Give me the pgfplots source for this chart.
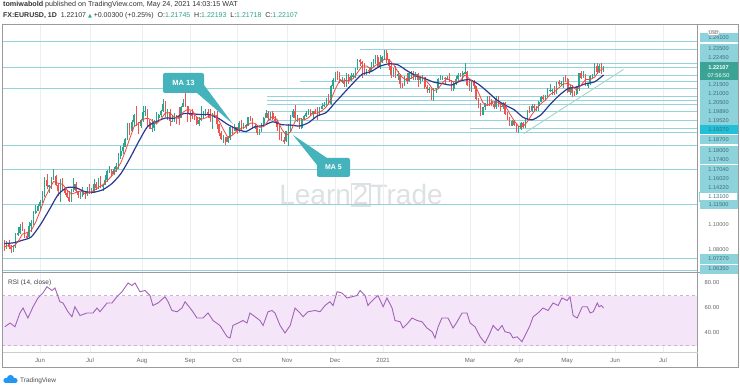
\documentclass[border=0pt]{standalone}
\usepackage{pgfplots}
\pgfplotsset{compat=1.18}
\usepackage{pgfplotstable}
\usepackage{fontspec}
\setmainfont{Liberation Sans}
\newfontfamily\dejavu{DejaVu Sans}
\definecolor{upc}{HTML}{2BA58E}
\definecolor{dnc}{HTML}{EF5350}
\definecolor{maf}{HTML}{F0463F}
\definecolor{mas}{HTML}{2B3990}
\definecolor{levelc}{HTML}{94D3DC}
\definecolor{lbl}{HTML}{8ED2DC}
\definecolor{lbltxt}{HTML}{3D6F78}
\definecolor{cur}{HTML}{3AA394}
\definecolor{hot}{HTML}{22BFD8}
\definecolor{framec}{HTML}{9A9A9A}
\definecolor{gridc}{HTML}{EBEFF1}
\definecolor{rsic}{HTML}{A263B8}
\definecolor{rsib}{HTML}{F4E6F8}
\definecolor{rsid}{HTML}{C9B5CF}
\definecolor{callout}{HTML}{45B3BC}
\definecolor{wm}{HTML}{DCE1E4}
\definecolor{txtg}{HTML}{666666}
\definecolor{trend}{HTML}{A3D6CB}
\definecolor{tvblue}{HTML}{2196F3}

\pgfplotstableread{
i O H L C
0 1.0840 1.0875 1.0790 1.0805
1 1.0805 1.0865 1.0800 1.0850
2 1.0850 1.0870 1.0805 1.0818
3 1.0818 1.0830 1.0775 1.0805
4 1.0805 1.0830 1.0780 1.0820
5 1.0820 1.0925 1.0810 1.0915
6 1.0915 1.0975 1.0905 1.0925
7 1.0925 1.0995 1.0915 1.0975
8 1.0975 1.1010 1.0945 1.0950
9 1.0950 1.0955 1.0885 1.0900
10 1.0900 1.0925 1.0880 1.0895
11 1.0895 1.1010 1.0890 1.0980
12 1.0980 1.1030 1.0935 1.1005
13 1.1005 1.1095 1.0990 1.1080
14 1.1080 1.1145 1.1075 1.1100
15 1.1100 1.1155 1.1095 1.1135
16 1.1135 1.1180 1.1105 1.1170
17 1.1170 1.1255 1.1160 1.1235
18 1.1235 1.1360 1.1205 1.1335
19 1.1335 1.1385 1.1270 1.1290
20 1.1290 1.1300 1.1240 1.1295
21 1.1295 1.1360 1.1265 1.1340
22 1.1340 1.1422 1.1335 1.1370
23 1.1370 1.1380 1.1290 1.1300
24 1.1300 1.1310 1.1215 1.1255
25 1.1255 1.1345 1.1170 1.1330
26 1.1330 1.1355 1.1260 1.1265
27 1.1265 1.1285 1.1220 1.1240
28 1.1240 1.1260 1.1195 1.1205
29 1.1205 1.1255 1.1170 1.1175
30 1.1175 1.1270 1.1170 1.1260
31 1.1260 1.1350 1.1245 1.1310
32 1.1310 1.1325 1.1245 1.1250
33 1.1250 1.1255 1.1200 1.1220
34 1.1220 1.1245 1.1190 1.1220
35 1.1220 1.1285 1.1205 1.1240
36 1.1240 1.1255 1.1190 1.1235
37 1.1235 1.1285 1.1210 1.1250
38 1.1250 1.1305 1.1230 1.1240
39 1.1240 1.1275 1.1230 1.1245
40 1.1245 1.1345 1.1240 1.1310
41 1.1310 1.1320 1.1260 1.1275
42 1.1275 1.1355 1.1265 1.1330
43 1.1330 1.1370 1.1275 1.1285
44 1.1285 1.1310 1.1255 1.1300
45 1.1300 1.1375 1.1295 1.1340
46 1.1340 1.1415 1.1320 1.1410
47 1.1410 1.1450 1.1390 1.1410
48 1.1410 1.1425 1.1370 1.1385
49 1.1385 1.1440 1.1380 1.1425
50 1.1425 1.1470 1.1400 1.1445
51 1.1445 1.1545 1.1420 1.1525
52 1.1525 1.1600 1.1500 1.1565
53 1.1565 1.1625 1.1540 1.1595
54 1.1595 1.1660 1.1590 1.1655
55 1.1655 1.1780 1.1650 1.1755
56 1.1755 1.1780 1.1690 1.1715
57 1.1715 1.1805 1.1710 1.1790
58 1.1790 1.1850 1.1760 1.1845
59 1.1845 1.1910 1.1760 1.1775
60 1.1775 1.1790 1.1695 1.1760
61 1.1760 1.1810 1.1740 1.1800
62 1.1800 1.1915 1.1790 1.1865
63 1.1865 1.1915 1.1835 1.1875
64 1.1875 1.1885 1.1755 1.1785
65 1.1785 1.1805 1.1730 1.1735
66 1.1735 1.1810 1.1710 1.1740
67 1.1740 1.1800 1.1715 1.1785
68 1.1785 1.1865 1.1780 1.1815
69 1.1815 1.1850 1.1790 1.1840
70 1.1840 1.1880 1.1830 1.1870
71 1.1870 1.1965 1.1865 1.1930
72 1.1930 1.1950 1.1825 1.1835
73 1.1835 1.1885 1.1800 1.1865
74 1.1865 1.1885 1.1755 1.1795
75 1.1795 1.1845 1.1790 1.1795
76 1.1795 1.1860 1.1790 1.1835
77 1.1835 1.1840 1.1770 1.1830
78 1.1830 1.1900 1.1765 1.1820
79 1.1820 1.1915 1.1815 1.1905
80 1.1905 1.1965 1.1900 1.1935
81 1.1935 1.2011 1.1905 1.1910
82 1.1910 1.1915 1.1790 1.1855
83 1.1855 1.1875 1.1790 1.1850
84 1.1850 1.1885 1.1810 1.1835
85 1.1835 1.1840 1.1805 1.1815
86 1.1815 1.1830 1.1765 1.1775
87 1.1775 1.1830 1.1755 1.1800
88 1.1800 1.1915 1.1795 1.1815
89 1.1815 1.1870 1.1810 1.1845
90 1.1845 1.1885 1.1835 1.1865
91 1.1865 1.1890 1.1815 1.1845
92 1.1845 1.1885 1.1790 1.1815
93 1.1815 1.1860 1.1735 1.1850
94 1.1850 1.1870 1.1815 1.1840
95 1.1840 1.1870 1.1730 1.1770
96 1.1770 1.1775 1.1680 1.1700
97 1.1700 1.1720 1.1650 1.1655
98 1.1655 1.1685 1.1625 1.1670
99 1.1670 1.1675 1.1612 1.1630
100 1.1630 1.1680 1.1625 1.1665
101 1.1665 1.1750 1.1650 1.1745
102 1.1745 1.1755 1.1685 1.1720
103 1.1720 1.1770 1.1715 1.1745
104 1.1745 1.1750 1.1695 1.1715
105 1.1715 1.1795 1.1710 1.1780
106 1.1780 1.1805 1.1725 1.1735
107 1.1735 1.1780 1.1730 1.1760
108 1.1760 1.1775 1.1730 1.1760
109 1.1760 1.1830 1.1755 1.1825
110 1.1825 1.1835 1.1795 1.1815
111 1.1815 1.1820 1.1735 1.1745
112 1.1745 1.1770 1.1735 1.1745
113 1.1745 1.1755 1.1690 1.1705
114 1.1705 1.1730 1.1690 1.1720
115 1.1720 1.1780 1.1710 1.1770
116 1.1770 1.1830 1.1760 1.1820
117 1.1820 1.1880 1.1815 1.1860
118 1.1860 1.1870 1.1805 1.1815
119 1.1815 1.1865 1.1805 1.1860
120 1.1860 1.1870 1.1805 1.1810
121 1.1810 1.1835 1.1785 1.1795
122 1.1795 1.1800 1.1720 1.1745
123 1.1745 1.1770 1.1650 1.1675
124 1.1675 1.1710 1.1640 1.1645
125 1.1645 1.1670 1.1620 1.1640
126 1.1640 1.1720 1.1635 1.1715
127 1.1715 1.1770 1.1603 1.1725
128 1.1725 1.1840 1.1710 1.1830
129 1.1830 1.1890 1.1820 1.1875
130 1.1875 1.1920 1.1800 1.1815
131 1.1815 1.1840 1.1785 1.1815
132 1.1815 1.1820 1.1735 1.1740
133 1.1740 1.1815 1.1730 1.1810
134 1.1810 1.1840 1.1800 1.1835
135 1.1835 1.1870 1.1830 1.1855
136 1.1855 1.1885 1.1840 1.1860
137 1.1860 1.1890 1.1835 1.1850
138 1.1850 1.1875 1.1810 1.1870
139 1.1870 1.1890 1.1850 1.1855
140 1.1855 1.1905 1.1800 1.1840
141 1.1840 1.1900 1.1835 1.1890
142 1.1890 1.1935 1.1885 1.1915
143 1.1915 1.1940 1.1905 1.1920
144 1.1920 1.1970 1.1915 1.1965
145 1.1965 1.2005 1.1920 1.1925
146 1.1925 1.2075 1.1920 1.2070
147 1.2070 1.2125 1.2040 1.2110
148 1.2110 1.2175 1.2100 1.2145
149 1.2145 1.2180 1.2110 1.2120
150 1.2120 1.2175 1.2090 1.2105
151 1.2105 1.2140 1.2090 1.2105
152 1.2105 1.2125 1.2060 1.2080
153 1.2080 1.2165 1.2060 1.2135
154 1.2135 1.2160 1.2080 1.2110
155 1.2110 1.2165 1.2105 1.2145
156 1.2145 1.2165 1.2125 1.2150
157 1.2150 1.2210 1.2130 1.2195
158 1.2195 1.2275 1.2190 1.2265
159 1.2265 1.2275 1.2220 1.2255
160 1.2255 1.2260 1.2130 1.2240
161 1.2240 1.2245 1.2150 1.2160
162 1.2160 1.2200 1.2155 1.2190
163 1.2190 1.2210 1.2160 1.2185
164 1.2185 1.2250 1.2180 1.2215
165 1.2215 1.2275 1.2210 1.2250
166 1.2250 1.2310 1.2240 1.2295
167 1.2295 1.2310 1.2210 1.2215
168 1.2215 1.2310 1.2200 1.2250
169 1.2250 1.2300 1.2245 1.2295
170 1.2295 1.2349 1.2265 1.2325
171 1.2325 1.2345 1.2245 1.2270
172 1.2270 1.2280 1.2190 1.2220
173 1.2220 1.2235 1.2130 1.2150
174 1.2150 1.2210 1.2135 1.2205
175 1.2205 1.2220 1.2130 1.2155
176 1.2155 1.2180 1.2115 1.2155
177 1.2155 1.2160 1.2055 1.2080
178 1.2080 1.2090 1.2055 1.2075
179 1.2075 1.2145 1.2065 1.2130
180 1.2130 1.2165 1.2085 1.2105
181 1.2105 1.2175 1.2095 1.2165
182 1.2165 1.2185 1.2120 1.2170
183 1.2170 1.2180 1.2115 1.2140
184 1.2140 1.2175 1.2115 1.2160
185 1.2160 1.2165 1.2060 1.2110
186 1.2110 1.2135 1.2080 1.2125
187 1.2125 1.2155 1.2105 1.2135
188 1.2135 1.2140 1.2040 1.2060
189 1.2060 1.2075 1.2010 1.2040
190 1.2040 1.2060 1.2010 1.2040
191 1.2040 1.2045 1.1955 1.1965
192 1.1965 1.2050 1.1950 1.2045
193 1.2045 1.2055 1.2010 1.2050
194 1.2050 1.2130 1.2045 1.2120
195 1.2120 1.2150 1.2110 1.2120
196 1.2120 1.2145 1.2110 1.2130
197 1.2130 1.2135 1.2085 1.2120
198 1.2120 1.2145 1.2110 1.2130
199 1.2130 1.2170 1.2095 1.2105
200 1.2105 1.2110 1.2025 1.2040
201 1.2040 1.2095 1.2025 1.2090
202 1.2090 1.2145 1.2075 1.2120
203 1.2120 1.2170 1.2095 1.2155
204 1.2155 1.2170 1.2135 1.2150
205 1.2150 1.2180 1.2110 1.2165
206 1.2165 1.2243 1.2160 1.2175
207 1.2175 1.2185 1.2065 1.2075
208 1.2075 1.2110 1.2025 1.2050
209 1.2050 1.2105 1.2020 1.2090
210 1.2090 1.2115 1.2045 1.2065
211 1.2065 1.2070 1.1960 1.1965
212 1.1965 1.1975 1.1895 1.1915
213 1.1915 1.1935 1.1835 1.1845
214 1.1845 1.1905 1.1840 1.1900
215 1.1900 1.1935 1.1880 1.1930
216 1.1930 1.1990 1.1910 1.1985
217 1.1985 1.1990 1.1910 1.1950
218 1.1950 1.1965 1.1910 1.1930
219 1.1930 1.1950 1.1885 1.1900
220 1.1900 1.1990 1.1885 1.1975
221 1.1975 1.1990 1.1905 1.1915
222 1.1915 1.1945 1.1875 1.1905
223 1.1905 1.1945 1.1885 1.1935
224 1.1935 1.1945 1.1840 1.1850
225 1.1850 1.1865 1.1805 1.1815
226 1.1815 1.1830 1.1755 1.1760
227 1.1760 1.1800 1.1755 1.1795
228 1.1795 1.1805 1.1760 1.1765
229 1.1765 1.1770 1.1710 1.1720
230 1.1720 1.1760 1.1704 1.1730
231 1.1730 1.1790 1.1725 1.1780
232 1.1780 1.1785 1.1740 1.1760
233 1.1760 1.1820 1.1740 1.1815
234 1.1815 1.1880 1.1805 1.1875
235 1.1875 1.1915 1.1855 1.1870
236 1.1870 1.1925 1.1865 1.1915
237 1.1915 1.1925 1.1870 1.1900
238 1.1900 1.1915 1.1870 1.1910
239 1.1910 1.1950 1.1875 1.1945
240 1.1945 1.1990 1.1940 1.1980
241 1.1980 1.1995 1.1955 1.1965
242 1.1965 1.1995 1.1955 1.1985
243 1.1985 1.2050 1.1980 1.2035
244 1.2035 1.2080 1.2020 1.2035
245 1.2035 1.2045 1.2000 1.2035
246 1.2035 1.2070 1.1995 1.2015
247 1.2015 1.2100 1.2005 1.2095
248 1.2095 1.2115 1.2070 1.2085
249 1.2085 1.2105 1.2065 1.2090
250 1.2090 1.2135 1.2055 1.2125
251 1.2125 1.2150 1.2100 1.2120
252 1.2120 1.2125 1.2015 1.2020
253 1.2020 1.2075 1.1995 1.2060
254 1.2060 1.2075 1.1985 1.2015
255 1.2015 1.2030 1.1990 1.2005
256 1.2005 1.2070 1.1995 1.2065
257 1.2065 1.2170 1.2030 1.2165
258 1.2165 1.2180 1.2120 1.2130
259 1.2130 1.2180 1.2125 1.2150
260 1.2150 1.2160 1.2070 1.2075
261 1.2075 1.2090 1.2050 1.2080
262 1.2080 1.2150 1.2075 1.2145
263 1.2145 1.2160 1.2130 1.2150
264 1.2150 1.2245 1.2145 1.2225
265 1.2225 1.2245 1.2160 1.2175
266 1.2175 1.2235 1.2170 1.2225
267 1.2225 1.2245 1.2160 1.2180
268 1.2175 1.2219 1.2172 1.2211
}\ohlc

\pgfplotstableread{
i v
0 1.0820
2 1.0830
4 1.0820
6 1.0857
8 1.0917
10 1.0929
12 1.0946
14 1.1012
16 1.1098
18 1.1195
20 1.1265
22 1.1326
24 1.1312
26 1.1304
28 1.1259
30 1.1229
32 1.1240
34 1.1252
36 1.1233
38 1.1237
40 1.1256
42 1.1280
44 1.1300
46 1.1333
48 1.1369
50 1.1415
52 1.1469
54 1.1557
56 1.1657
58 1.1752
60 1.1777
62 1.1809
64 1.1817
66 1.1800
68 1.1772
70 1.1810
72 1.1858
74 1.1859
76 1.1825
78 1.1815
80 1.1865
82 1.1885
84 1.1877
86 1.1826
88 1.1808
90 1.1820
92 1.1837
94 1.1843
96 1.1795
98 1.1727
100 1.1664
102 1.1686
104 1.1718
106 1.1739
108 1.1750
110 1.1779
112 1.1778
114 1.1746
116 1.1752
118 1.1797
120 1.1833
122 1.1805
124 1.1734
126 1.1684
128 1.1711
130 1.1792
132 1.1815
134 1.1803
136 1.1820
138 1.1854
140 1.1855
142 1.1874
144 1.1906
146 1.1959
148 1.2043
150 1.2110
152 1.2111
154 1.2107
156 1.2124
158 1.2173
160 1.2221
162 1.2222
164 1.2198
166 1.2227
168 1.2245
170 1.2276
172 1.2272
174 1.2234
176 1.2177
178 1.2134
180 1.2109
182 1.2129
184 1.2148
186 1.2141
188 1.2118
190 1.2080
192 1.2030
194 1.2044
196 1.2093
198 1.2124
200 1.2105
202 1.2097
204 1.2111
206 1.2153
208 1.2123
210 1.2091
212 1.2017
214 1.1938
216 1.1915
218 1.1939
220 1.1948
222 1.1925
224 1.1916
226 1.1853
228 1.1797
230 1.1754
232 1.1751
234 1.1792
236 1.1847
238 1.1894
240 1.1930
242 1.1957
244 1.2000
246 1.2021
248 1.2053
250 1.2082
252 1.2088
254 1.2068
256 1.2033
258 1.2076
260 1.2117
262 1.2116
264 1.2135
266 1.2184
268 1.2203
}\mafast

\pgfplotstableread{
i v
0 1.0845
4 1.0850
8 1.0870
12 1.0896
16 1.0989
20 1.1105
24 1.1224
28 1.1279
32 1.1277
36 1.1247
40 1.1243
44 1.1262
48 1.1309
52 1.1385
56 1.1502
60 1.1634
64 1.1752
68 1.1791
72 1.1818
76 1.1817
80 1.1852
84 1.1851
88 1.1845
92 1.1843
96 1.1813
100 1.1767
104 1.1732
108 1.1714
112 1.1750
116 1.1761
120 1.1789
124 1.1767
128 1.1764
132 1.1756
136 1.1782
140 1.1835
144 1.1862
148 1.1940
152 1.2015
156 1.2090
160 1.2158
164 1.2179
168 1.2220
172 1.2239
176 1.2231
180 1.2186
184 1.2147
188 1.2124
192 1.2097
196 1.2085
200 1.2074
204 1.2106
208 1.2116
212 1.2081
216 1.2024
220 1.1962
224 1.1918
228 1.1883
232 1.1824
236 1.1804
240 1.1844
244 1.1922
248 1.1992
252 1.2045
256 1.2059
260 1.2085
264 1.2099
268 1.2152
}\maslow

\pgfplotstableread{
i v
0.2 45
2.5 48
4.7 45
6.9 56
8.3 60
10.5 52
12.8 61
15.0 68
17.2 72
19.0 77
21.3 74
22.6 76
24.8 65
26.2 64
28.4 57
30.2 53
31.5 61
33.8 54
36.9 56
39.6 56
41.4 60
42.7 57
45.9 64
48.1 64
50.3 69
52.6 73
55.3 80
57.0 78
58.4 80
60.6 73
62.9 74
65.1 70
66.4 62
68.7 64
71.8 69
73.2 65
74.9 58
77.2 57
79.4 60
80.8 65
83.9 58
86.1 52
88.8 52
91.1 56
93.3 50
96.4 46
99.6 37
100.9 36
102.2 46
104.5 48
106.7 50
108.5 48
109.8 56
112.1 53
114.3 50
115.7 46
117.9 57
119.7 58
121.0 56
123.3 46
125.5 40
127.8 46
130.0 60
132.2 56
133.6 53
135.8 57
138.9 58
141.2 57
143.4 62
145.6 65
147.0 62
148.8 73
151.0 72
153.2 68
155.5 69
157.7 70
159.1 74
161.3 70
162.6 62
163.5 64
165.8 68
167.1 70
169.4 61
171.1 68
173.4 60
174.7 50
177.0 49
178.3 44
180.5 48
182.3 52
184.6 50
186.8 49
189.0 44
191.3 41
192.6 36
194.0 45
195.7 52
198.4 52
200.7 44
202.5 49
204.7 56
206.9 56
208.3 48
210.5 45
212.8 37
215.0 32
217.2 40
218.6 46
220.8 42
222.6 46
223.9 41
226.2 40
227.5 36
229.3 37
231.5 33
232.9 38
235.1 46
236.5 53
238.7 56
240.9 60
243.2 58
245.4 64
247.7 62
249.4 68
251.7 66
253.0 69
254.4 54
256.2 52
258.5 61
260.7 61
262.0 56
263.4 57
265.2 64
266.0 61
267.0 62
268.0 60
}\rsi

\tikzset{
  plab/.style={fill=lbl, text=lbltxt, minimum width=38pt, minimum height=9pt, inner sep=0pt, font=\fontsize{5.6}{6}\selectfont},
}
\pgfplotsset{
  candle/.style 2 args={only marks, mark=o, mark size=0pt,
    mark options={draw opacity=0, fill opacity=0}, forget plot,
    error bars/.cd, y dir=both, y explicit, error mark=none,
    error bar style={draw=#1, line width=#2, solid, draw opacity=1}},
  level/.style={draw=levelc, line width=0.9pt, forget plot},
}

\begin{document}
\begin{tikzpicture}[x=1pt,y=1pt]
\path[use as bounding box] (0,0) rectangle (740,389);
\fill[white] (0,0) rectangle (740,389);

% watermark
\node[text=wm, font=\fontsize{28}{28}\selectfont, inner sep=0pt] at (361,194)
  {Learn{\setlength{\fboxsep}{0.5pt}\setlength{\fboxrule}{1.5pt}\fcolorbox{wm}{white}{2}}Trade};

% ---------------- main price pane ----------------
\begin{axis}[
  at={(2pt,117pt)}, anchor=south west, scale only axis,
  width=695pt, height=248pt,
  xmin=-1.1, xmax=309.8, ymin=1.06238, ymax=1.25478,
  axis line style={draw=none}, tick style={draw=none},
  xtick={15.9,38.3,61.5,83,104,126.4,147.9,169.4,208.3,230.2,251.7,273.2,294.6},
  xticklabels=\empty, ytick=\empty,
  xmajorgrids, grid style={gridc, line width=0.6pt},
]
% horizontal levels
\addplot[level] coordinates {(-1.1,1.2410) (309.8,1.2410)};
\addplot[level] coordinates {(159.1,1.2350) (309.8,1.2350)};
\addplot[level] coordinates {(172.5,1.2245) (309.8,1.2245)};
\addplot[level] coordinates {(-1.1,1.22107) (309.8,1.22107)};
\addplot[level] coordinates {(150,1.2150) (309.8,1.2150)};
\addplot[level] coordinates {(132.2,1.2100) (309.8,1.2100)};
\addplot[level] coordinates {(-1.1,1.2050) (309.8,1.2050)};
\addplot[level] coordinates {(117.5,1.1989) (309.8,1.1989)};
\addplot[level] coordinates {(117.5,1.1952) (309.8,1.1952)};
\addplot[level] coordinates {(117.5,1.1927) (309.8,1.1927)};
\addplot[level] coordinates {(117.5,1.1870) (309.8,1.1870)};
\addplot[level] coordinates {(117.5,1.1800) (309.8,1.1800)};
\addplot[level] coordinates {(208.3,1.1740) (309.8,1.1740)};
\addplot[level] coordinates {(100.9,1.1704) (309.8,1.1704)};
\addplot[level] coordinates {(-1.1,1.1602) (309.8,1.1602)};
\addplot[level] coordinates {(-1.1,1.1422) (309.8,1.1422)};
\addplot[level] coordinates {(-1.1,1.1150) (309.8,1.1150)};
\addplot[level] coordinates {(-1.1,1.0727) (309.8,1.0727)};
\addplot[level] coordinates {(-1.1,1.0635) (309.8,1.0635)};
% trend line
\addplot[trend, line width=0.9pt] coordinates {(232.3,1.1698) (276.9,1.2195)};
% wicks
\addplot[candle={upc}{0.6pt}]
  table[x=i, y expr={\thisrow{C}>=\thisrow{O} ? 0.5*(\thisrow{H}+\thisrow{L}) : nan},
        y error expr={0.5*(\thisrow{H}-\thisrow{L})}] {\ohlc};
\addplot[candle={dnc}{0.6pt}]
  table[x=i, y expr={\thisrow{C}<\thisrow{O} ? 0.5*(\thisrow{H}+\thisrow{L}) : nan},
        y error expr={0.5*(\thisrow{H}-\thisrow{L})}] {\ohlc};
% bodies
\addplot[candle={upc}{1.6pt}]
  table[x=i, y expr={\thisrow{C}>=\thisrow{O} ? 0.5*(\thisrow{O}+\thisrow{C}) : nan},
        y error expr={max(0.5*abs(\thisrow{C}-\thisrow{O}),0.0003)}] {\ohlc};
\addplot[candle={dnc}{1.6pt}]
  table[x=i, y expr={\thisrow{C}<\thisrow{O} ? 0.5*(\thisrow{O}+\thisrow{C}) : nan},
        y error expr={max(0.5*abs(\thisrow{C}-\thisrow{O}),0.0003)}] {\ohlc};
% moving averages
\addplot[mas, line width=1.2pt, smooth, tension=0.4] table[x=i,y=v] {\maslow};
\addplot[maf, line width=0.8pt] table[x=i,y=v] {\mafast};
\end{axis}

% ---------------- RSI pane ----------------
\begin{axis}[
  at={(2pt,37pt)}, anchor=south west, scale only axis,
  width=695pt, height=80pt,
  xmin=-1.1, xmax=309.8, ymin=24.8, ymax=88.8,
  axis line style={draw=none}, tick style={draw=none},
  xtick={15.9,38.3,61.5,83,104,126.4,147.9,169.4,208.3,230.2,251.7,273.2,294.6},
  xticklabels={Jun,Jul,Aug,Sep,Oct,Nov,Dec,2021,Mar,Apr,May,Jun,Jul},
  xticklabel style={font=\fontsize{6}{7}\selectfont, text=txtg, anchor=base, yshift=-10pt},
  ytick=\empty,
  xmajorgrids, grid style={gridc, line width=0.6pt},
]
\addplot[fill=rsib, draw=none, forget plot] coordinates {(-1.1,30) (309.8,30) (309.8,70) (-1.1,70)} -- cycle;
\addplot[rsid, dashed, line width=0.6pt] coordinates {(-1.1,70) (309.8,70)};
\addplot[rsid, dashed, line width=0.6pt] coordinates {(-1.1,30) (309.8,30)};
\addplot[rsic, line width=0.9pt] table[x=i,y=v] {\rsi};
\end{axis}

% ---------------- frames ----------------
\draw[framec, line width=0.8pt] (2.5,22) rectangle (738,364.5);
\draw[framec, line width=0.6pt] (697.5,22) -- (697.5,364.5);
\draw[framec, line width=0.6pt] (2.5,117) -- (738,117);
\draw[gridc!70!gray, line width=0.5pt] (2.5,37) -- (697.5,37);

% ---------------- callouts ----------------
\fill[callout] (197,296) -- (204,304) -- (233,265) -- cycle;
\node[fill=callout, rounded corners=2pt, text=white, font=\bfseries\fontsize{7.5}{8}\selectfont,
      minimum width=41pt, minimum height=20pt, inner sep=0pt] at (183.5,306) {MA 13};
\fill[callout] (317,224) -- (327,231) -- (293,254) -- cycle;
\node[fill=callout, rounded corners=2pt, text=white, font=\bfseries\fontsize{7}{8}\selectfont,
      minimum width=33pt, minimum height=19pt, inner sep=0pt] at (333.5,221.5) {MA 5};

% ---------------- header ----------------
\node[anchor=west, inner sep=0pt, text=black!80, font=\fontsize{7.2}{8}\selectfont] at (3,384)
  {\textbf{tomiwabold} published on TradingView.com, May 24, 2021 14:03:15 WAT};
\node[anchor=west, inner sep=0pt, text=black!80, font=\fontsize{7}{8}\selectfont] at (3,373)
  {\textbf{FX:EURUSD, 1D}\ \ 1.22107 {\dejavu\fontsize{5}{6}\selectfont\textcolor{upc}{▲}} +0.00300 (+0.25\%)\ \
   O:\textcolor{upc}{1.21745}\ \ H:\textcolor{upc}{1.22193}\ \ L:\textcolor{upc}{1.21718}\ \ C:\textcolor{upc}{1.22107}};

% ---------------- price scale labels ----------------
\node[plab] at (718.5,351) {1.24100};
\node[plab] at (718.5,340) {1.23500};
\node[plab] at (718.5,331) {1.22450};
\node[plab, fill=cur, text=white, minimum height=18pt, font=\bfseries\fontsize{5.6}{9}\selectfont, align=center] at (718.5,317.5) {1.22107\\[-1pt]{\mdseries 07:56:50}};
\node[plab] at (718.5,304) {1.21500};
\node[plab] at (718.5,295) {1.21000};
\node[plab] at (718.5,286) {1.20500};
\node[plab] at (718.5,277) {1.19890};
\node[plab] at (718.5,268) {1.19520};
\node[plab, fill=hot] at (718.5,259) {1.19270};
\node[plab] at (718.5,249) {1.18700};
\node[plab] at (718.5,238) {1.18000};
\node[plab] at (718.5,229) {1.17400};
\node[plab] at (718.5,219) {1.17040};
\node[plab] at (718.5,210) {1.16020};
\node[plab] at (718.5,201) {1.14220};
\node[plab, fill=white, draw=lbl] at (718.5,192) {1.13100};
\node[plab] at (718.5,184) {1.11500};
\node[plab, fill=none, text=txtg] at (718.5,164) {1.10000};
\node[plab, fill=none, text=txtg] at (718.5,139) {1.08000};
\node[plab] at (718.5,130) {1.07270};
\node[plab] at (718.5,120) {1.06350};
\node[draw=gray!60, fill=white, rounded corners=1pt, inner sep=0.8pt, font=\fontsize{4.5}{5}\selectfont, text=black!70] at (713.5,356) {USD};

% RSI labels
\node[anchor=west, inner sep=0pt, text=black!75, font=\fontsize{6.5}{7}\selectfont] at (8,106) {RSI (14, close)};
\node[text=txtg, font=\fontsize{5.8}{6}\selectfont, inner sep=0pt] at (712,106) {80.00};
\node[text=txtg, font=\fontsize{5.8}{6}\selectfont, inner sep=0pt] at (712,81) {60.00};
\node[text=txtg, font=\fontsize{5.8}{6}\selectfont, inner sep=0pt] at (712,56) {40.00};

% footer logo
\fill[tvblue] (6,8.5) circle (2.6);
\fill[tvblue] (10.5,10.5) circle (3.6);
\fill[tvblue] (15,8.5) circle (2.6);
\fill[tvblue] (6,5.9) rectangle (15,9);
\node[anchor=west, inner sep=0pt, text=black!70, font=\fontsize{6.5}{7}\selectfont] at (20,8.5) {TradingView};
\end{tikzpicture}
\end{document}
